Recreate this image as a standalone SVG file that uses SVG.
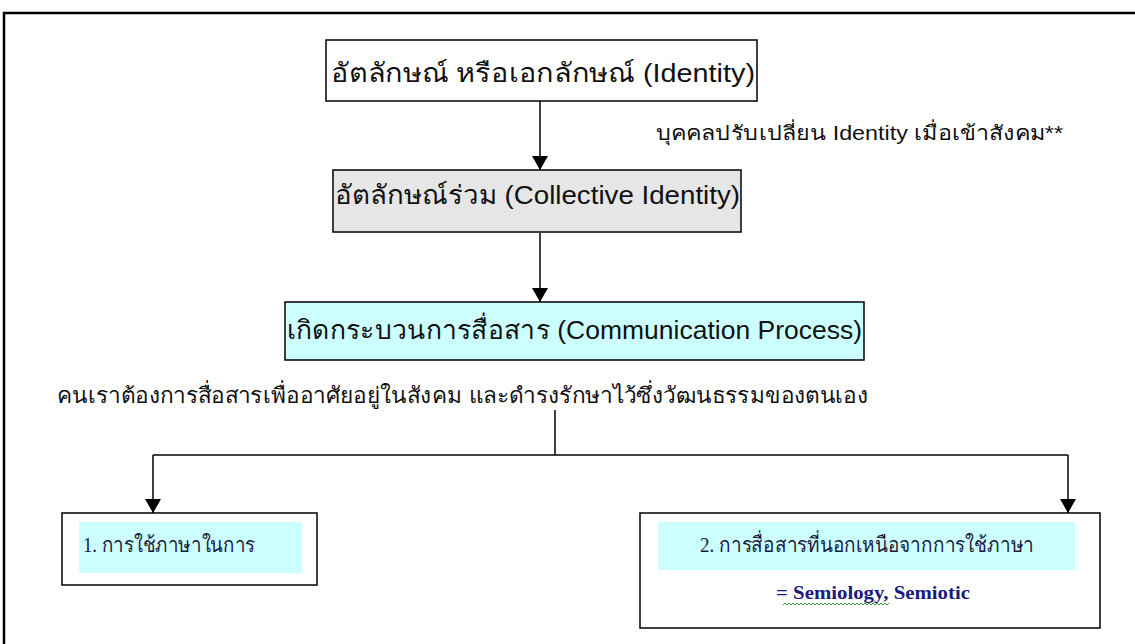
<svg xmlns="http://www.w3.org/2000/svg" width="1135" height="644" viewBox="0 0 1135 644">
<style>
.box{stroke:#000;stroke-width:1.5}
.t{font-family:"Liberation Sans","Noto Sans",sans-serif;fill:#111}
.s{font-family:"Liberation Serif","Noto Serif",serif;fill:#1a1a3a}
.ln{stroke:#000;stroke-width:1.5;fill:none}
</style>
<defs>
<marker id="ah" viewBox="0 0 14 16" refX="14" refY="8" markerWidth="14" markerHeight="16" markerUnits="userSpaceOnUse" orient="auto">
<path d="M0,0 L14,8 L0,16 Z" fill="#000"/>
</marker>
</defs>
<rect x="0" y="0" width="1135" height="644" fill="#fff"/>
<rect x="4" y="13" width="1140" height="640" fill="none" stroke="#000" stroke-width="2.5"/>
<g id="connectors">
<line class="ln" x1="540" y1="101" x2="540" y2="170" marker-end="url(#ah)"/>
<line class="ln" x1="540" y1="233" x2="540" y2="302" marker-end="url(#ah)"/>
<polyline class="ln" points="555,410 555,455"/>
<polyline class="ln" points="153,455 1068,455"/>
<line class="ln" x1="153" y1="455" x2="153" y2="513" marker-end="url(#ah)"/>
<line class="ln" x1="1068" y1="455" x2="1068" y2="513" marker-end="url(#ah)"/>
</g>
<g id="identity">
<rect class="box" x="326" y="40" width="431" height="61" fill="#fff"/>
<text class="t" x="331" y="82" font-size="26" textLength="424" lengthAdjust="spacingAndGlyphs">อัตลักษณ์ หรือเอกลักษณ์ (Identity)</text>
</g>
<g id="note">
<text class="t" x="656" y="140" font-size="20" textLength="407" lengthAdjust="spacingAndGlyphs">บุคคลปรับเปลี่ยน Identity เมื่อเข้าสังคม**</text>
</g>
<g id="collective">
<rect class="box" x="333" y="170" width="408" height="62" fill="#e6e6e6"/>
<text class="t" x="335" y="204" font-size="26" textLength="405" lengthAdjust="spacingAndGlyphs">อัตลักษณ์ร่วม (Collective Identity)</text>
</g>
<g id="communication">
<rect class="box" x="285" y="302" width="579" height="58" fill="#ccffff"/>
<text class="t" x="287" y="339" font-size="26" textLength="575" lengthAdjust="spacingAndGlyphs">เกิดกระบวนการสื่อสาร (Communication Process)</text>
</g>
<g id="purpose">
<text class="t" x="57" y="403" font-size="22" textLength="811" lengthAdjust="spacingAndGlyphs">คนเราต้องการสื่อสารเพื่ออาศัยอยู่ในสังคม และดำรงรักษาไว้ซึ่งวัฒนธรรมของตนเอง</text>
</g>
<g id="language">
<rect class="box" x="62" y="513" width="255" height="72" fill="#fff"/>
<rect x="79" y="522" width="223" height="51" fill="#ccffff"/>
<text class="s" x="83" y="552" font-size="21" textLength="172" lengthAdjust="spacingAndGlyphs">1. การใช้ภาษาในการ</text>
</g>
<g id="nonverbal">
<rect class="box" x="640" y="513" width="460" height="115" fill="#fff"/>
<rect x="658" y="522" width="417" height="48" fill="#ccffff"/>
<text class="s" x="700" y="552" font-size="21" textLength="334" lengthAdjust="spacingAndGlyphs">2. การสื่อสารที่นอกเหนือจากการใช้ภาษา</text>
<text x="776" y="599" font-size="18" font-weight="bold" font-family="Liberation Serif, serif" fill="#1a1a80" textLength="194" lengthAdjust="spacingAndGlyphs">=  Semiology, Semiotic</text>
<path d="M783,605 l2,-2 l2,2 l2,-2 l2,2 l2,-2 l2,2 l2,-2 l2,2 l2,-2 l2,2 l2,-2 l2,2 l2,-2 l2,2 l2,-2 l2,2 l2,-2 l2,2 l2,-2 l2,2 l2,-2 l2,2 l2,-2 l2,2 l2,-2 l2,2 l2,-2 l2,2 l2,-2 l2,2 l2,-2 l2,2 l2,-2 l2,2 l2,-2 l2,2 l2,-2 l2,2 l2,-2 l2,2 l2,-2 l2,2 l2,-2 l2,2 l2,-2 l2,2 l2,-2 l2,2 l2,-2 l2,2 l2,-2 l2,2 l2,-2" fill="none" stroke="#3a9a3a" stroke-width="1"/>
</g>
</svg>
